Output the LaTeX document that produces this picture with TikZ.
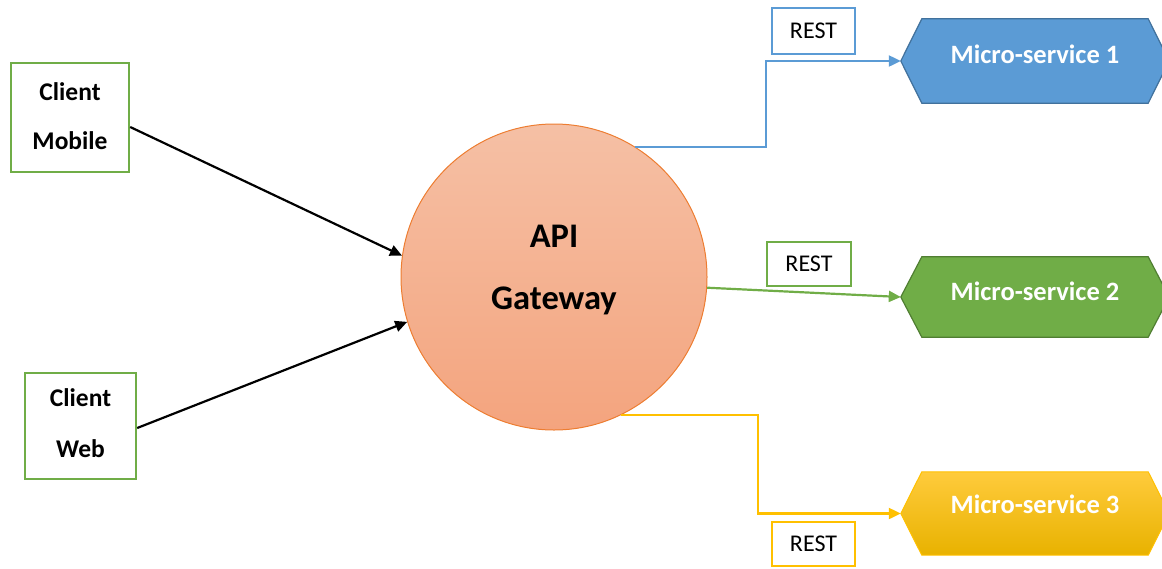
\documentclass[tikz,border=0pt]{standalone}
\usepackage{fontspec}
\setmainfont{Carlito}
\usetikzlibrary{arrows.meta}

\definecolor{cgreen}{HTML}{70AD47}
\definecolor{cgreendark}{HTML}{507E32}
\definecolor{cblue}{HTML}{5B9BD5}
\definecolor{cbluedark}{HTML}{41719C}
\definecolor{cyellow}{HTML}{FFC000}
\definecolor{cyellowtop}{HTML}{FFCB3C}
\definecolor{cyellowbot}{HTML}{E8B200}
\definecolor{corange}{HTML}{ED7D31}
\definecolor{corangetop}{HTML}{F5C0A5}
\definecolor{corangebot}{HTML}{F4A47E}

\tikzset{
  clientbox/.style={draw=cgreen, line width=2.4pt, fill=white, inner sep=0pt},
  restbox/.style={draw=#1, line width=2.4pt, fill=white, inner sep=0pt,
    minimum height=44pt, font=\fontsize{24}{24}\selectfont},
  hexbox/.style={draw=none, inner sep=0pt, minimum width=268pt, minimum height=84pt},
  boldtext/.style={inner sep=0pt, anchor=base, font=\bfseries\fontsize{#1}{#1}\selectfont},
  mstext/.style={inner sep=0pt, anchor=base, text=white, font=\bfseries\fontsize{26.5}{26.5}\selectfont},
  wire/.style={line width=2.2pt, draw=#1, -{Triangle[length=12pt,width=11pt]}},
}

\begin{document}
\begin{tikzpicture}[x=1pt,y=-1pt]
\useasboundingbox (0,0) rectangle (1162,568);

% clients
\node[clientbox, minimum width=118pt, minimum height=109pt] (cm) at (70,117.5) {};
\node[boldtext=25.5] (cm1) at (70,100) {Client};
\node[boldtext=25.5] (cm2) at (70,149) {Mobile};
\node[clientbox, minimum width=111pt, minimum height=106pt] (cw) at (80.5,426) {};
\node[boldtext=25.5] (cw1) at (80.5,406) {Client};
\node[boldtext=25.5] (cw2) at (80.5,457) {Web};

% gateway
\node[circle, minimum size=306pt, inner sep=0pt, draw=corange, line width=1pt,
      top color=corangetop, bottom color=corangebot] (gw) at (554,277) {};
\node[boldtext=34.5] (gw1) at (554,247) {API};
\node[boldtext=34.5] (gw2) at (554,309) {Gateway};

% micro-services (arrow-ended hexagons)
\node[hexbox] (ms1) at (1035,61) {};
\draw[fill=cblue, draw=cbluedark, line width=1.2pt]
  (ms1.west) -- ([xshift=21pt]ms1.north west) -- ([xshift=-21pt]ms1.north east)
  -- (ms1.east) -- ([xshift=-21pt]ms1.south east) -- ([xshift=21pt]ms1.south west) -- cycle;
\node[mstext] (ms1t) at (1035,63) {Micro-service 1};

\node[hexbox, minimum height=80pt] (ms2) at (1035,297) {};
\draw[fill=cgreen, draw=cgreendark, line width=1.2pt]
  (ms2.west) -- ([xshift=21pt]ms2.north west) -- ([xshift=-21pt]ms2.north east)
  -- (ms2.east) -- ([xshift=-21pt]ms2.south east) -- ([xshift=21pt]ms2.south west) -- cycle;
\node[mstext] (ms2t) at (1035,300) {Micro-service 2};

\node[hexbox, minimum height=83pt] (ms3) at (1035,513.5) {};
\shade[top color=cyellowtop, bottom color=cyellowbot]
  (ms3.west) -- ([xshift=21pt]ms3.north west) -- ([xshift=-21pt]ms3.north east)
  -- (ms3.east) -- ([xshift=-21pt]ms3.south east) -- ([xshift=21pt]ms3.south west) -- cycle;
\draw[draw=cyellow, line width=1pt]
  (ms3.west) -- ([xshift=21pt]ms3.north west) -- ([xshift=-21pt]ms3.north east)
  -- (ms3.east) -- ([xshift=-21pt]ms3.south east) -- ([xshift=21pt]ms3.south west) -- cycle;
\node[mstext] (ms3t) at (1035,513) {Micro-service 3};

% protocol labels
\node[restbox=cblue, minimum width=83pt, minimum height=46pt] (r1) at (813.5,31) {REST};
\node[restbox=cgreen, minimum width=84pt] (r2) at (809,264) {REST};
\node[restbox=cyellow, minimum width=83pt] (r3) at (813.5,544) {REST};

% client requests
\draw[wire=black] ([yshift=-9.5pt]cm.east) -- (gw.172.5);
\draw[wire=black] ([yshift=-2pt]cw.east) -- (gw.-163.6);

% gateway to services
\draw[wire=cblue] (gw.58.2) -- ++(131,0) |- (ms1.west);
\draw[wire=cgreen] (gw.-4.5) -- (ms2.west);
\draw[wire=cyellow] (gw.-64.4) -- ++(137,0) |- (ms3.west);
\end{tikzpicture}
\end{document}
